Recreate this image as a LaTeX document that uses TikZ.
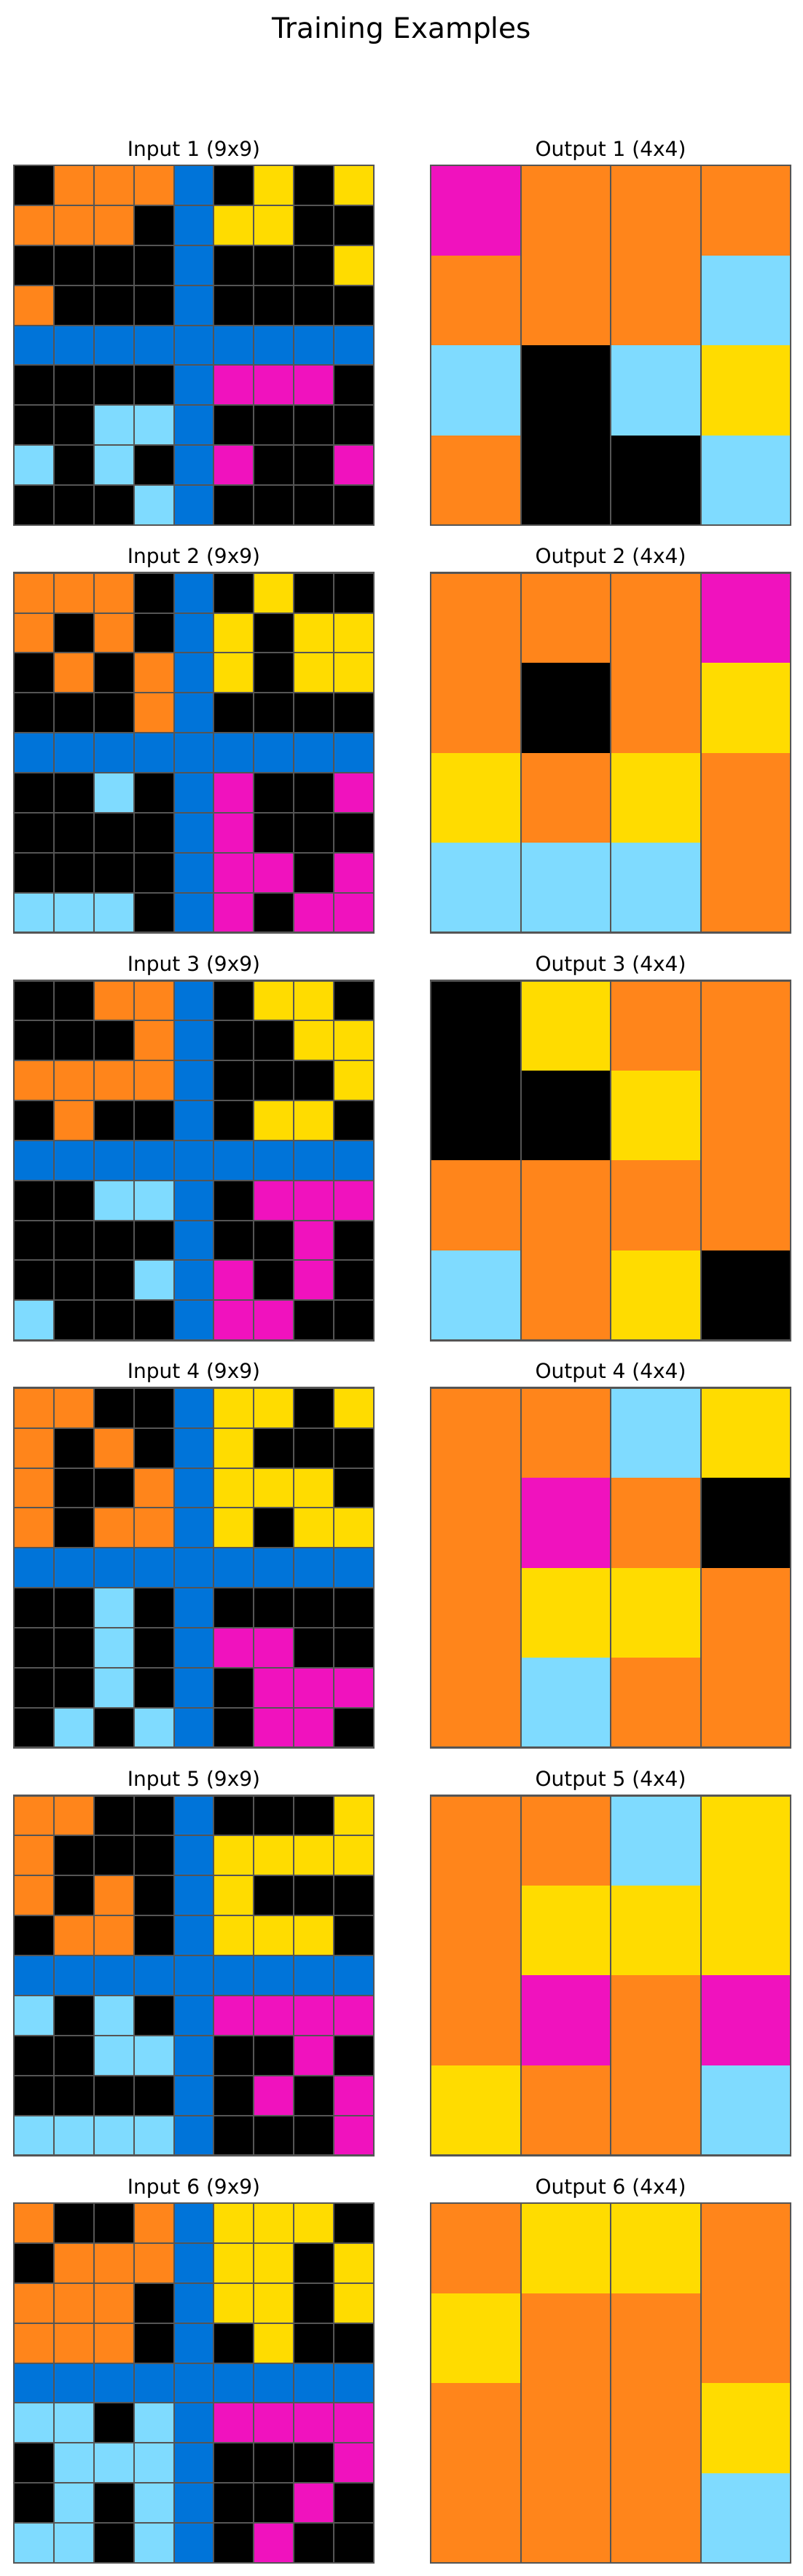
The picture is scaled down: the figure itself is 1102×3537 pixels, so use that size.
\documentclass[tikz,border=0pt]{standalone}
\usepackage{fontspec}
\setmainfont{DejaVu Sans}

\definecolor{cK}{HTML}{000000}
\definecolor{cB}{HTML}{0074D9}
\definecolor{cO}{HTML}{FF851B}
\definecolor{cY}{HTML}{FFDC00}
\definecolor{cM}{HTML}{F012BE}
\definecolor{cC}{HTML}{7FDBFF}
\definecolor{gridgray}{HTML}{555555}

\tikzset{
  cellline/.style={draw=gridgray, line width=2pt},
  gridframe/.style={draw=gridgray, line width=2.7pt},
  paneltitle/.style={anchor=base, font=\fontsize{28}{34}\selectfont},
}

% #1 name, #2 left, #3 top, #4 size, #5 rows, #6 title
\newcommand{\arcgrid}[6]{%
  \pgfmathsetmacro{\cs}{494/#4}
  \foreach \cells [count=\ri from 0] in {#5} {
    \foreach \cl [count=\ki from 0] in \cells
      \fill[c\cl] (#2+\ki*\cs, #3+\ri*\cs) rectangle ++(\cs, \cs);
  }
  \foreach \ki in {1,...,\numexpr#4-1\relax}
    \draw[cellline] (#2+\ki*\cs, #3) -- ++(0, 494);
  \draw[gridframe] (#2, #3) rectangle ++(494, 494);
  \node[paneltitle] (#1) at (#2+247, #3-13) {#6};
}
% horizontal lines, inputs only
\newcommand{\rowlines}[2]{%
  \foreach \ri in {1,...,8}
    \draw[cellline] (#1, #2+\ri*494/9) -- ++(494, 0);
  \draw[gridframe] (#1, #2) rectangle ++(494, 494);
}

\begin{document}
\begin{tikzpicture}[x=1pt, y=-1pt]
    \useasboundingbox (0, 0) rectangle (1102, 3537);
    \node[anchor=base, font=\fontsize{39}{47}\selectfont] (maintitle) at (551, 52) {Training Examples};

    \arcgrid{in1}{19}{227}{9}{{K,O,O,O,B,K,Y,K,Y},{O,O,O,K,B,Y,Y,K,K},{K,K,K,K,B,K,K,K,Y},{O,K,K,K,B,K,K,K,K},{B,B,B,B,B,B,B,B,B},{K,K,K,K,B,M,M,M,K},{K,K,C,C,B,K,K,K,K},{C,K,C,K,B,M,K,K,M},{K,K,K,C,B,K,K,K,K}}{Input 1 (9x9)}
    \rowlines{19}{227}
    \arcgrid{out1}{591}{227}{4}{{M,O,O,O},{O,O,O,C},{C,K,C,Y},{O,K,K,C}}{Output 1 (4x4)}

    \arcgrid{in2}{19}{786.6}{9}{{O,O,O,K,B,K,Y,K,K},{O,K,O,K,B,Y,K,Y,Y},{K,O,K,O,B,Y,K,Y,Y},{K,K,K,O,B,K,K,K,K},{B,B,B,B,B,B,B,B,B},{K,K,C,K,B,M,K,K,M},{K,K,K,K,B,M,K,K,K},{K,K,K,K,B,M,M,K,M},{C,C,C,K,B,M,K,M,M}}{Input 2 (9x9)}
    \rowlines{19}{786.6}
    \arcgrid{out2}{591}{786.6}{4}{{O,O,O,M},{O,K,O,Y},{Y,O,Y,O},{C,C,C,O}}{Output 2 (4x4)}

    \arcgrid{in3}{19}{1346.2}{9}{{K,K,O,O,B,K,Y,Y,K},{K,K,K,O,B,K,K,Y,Y},{O,O,O,O,B,K,K,K,Y},{K,O,K,K,B,K,Y,Y,K},{B,B,B,B,B,B,B,B,B},{K,K,C,C,B,K,M,M,M},{K,K,K,K,B,K,K,M,K},{K,K,K,C,B,M,K,M,K},{C,K,K,K,B,M,M,K,K}}{Input 3 (9x9)}
    \rowlines{19}{1346.2}
    \arcgrid{out3}{591}{1346.2}{4}{{K,Y,O,O},{K,K,Y,O},{O,O,O,O},{C,O,Y,K}}{Output 3 (4x4)}

    \arcgrid{in4}{19}{1905.8}{9}{{O,O,K,K,B,Y,Y,K,Y},{O,K,O,K,B,Y,K,K,K},{O,K,K,O,B,Y,Y,Y,K},{O,K,O,O,B,Y,K,Y,Y},{B,B,B,B,B,B,B,B,B},{K,K,C,K,B,K,K,K,K},{K,K,C,K,B,M,M,K,K},{K,K,C,K,B,K,M,M,M},{K,C,K,C,B,K,M,M,K}}{Input 4 (9x9)}
    \rowlines{19}{1905.8}
    \arcgrid{out4}{591}{1905.8}{4}{{O,O,C,Y},{O,M,O,K},{O,Y,Y,O},{O,C,O,O}}{Output 4 (4x4)}

    \arcgrid{in5}{19}{2465.4}{9}{{O,O,K,K,B,K,K,K,Y},{O,K,K,K,B,Y,Y,Y,Y},{O,K,O,K,B,Y,K,K,K},{K,O,O,K,B,Y,Y,Y,K},{B,B,B,B,B,B,B,B,B},{C,K,C,K,B,M,M,M,M},{K,K,C,C,B,K,K,M,K},{K,K,K,K,B,K,M,K,M},{C,C,C,C,B,K,K,K,M}}{Input 5 (9x9)}
    \rowlines{19}{2465.4}
    \arcgrid{out5}{591}{2465.4}{4}{{O,O,C,Y},{O,Y,Y,Y},{O,M,O,M},{Y,O,O,C}}{Output 5 (4x4)}

    \arcgrid{in6}{19}{3025}{9}{{O,K,K,O,B,Y,Y,Y,K},{K,O,O,O,B,Y,Y,K,Y},{O,O,O,K,B,Y,Y,K,Y},{O,O,O,K,B,K,Y,K,K},{B,B,B,B,B,B,B,B,B},{C,C,K,C,B,M,M,M,M},{K,C,C,C,B,K,K,K,M},{K,C,K,C,B,K,K,M,K},{C,C,K,C,B,K,M,K,K}}{Input 6 (9x9)}
    \rowlines{19}{3025}
    \arcgrid{out6}{591}{3025}{4}{{O,Y,Y,O},{Y,O,O,O},{O,O,O,Y},{O,O,O,C}}{Output 6 (4x4)}
\end{tikzpicture}
\end{document}
